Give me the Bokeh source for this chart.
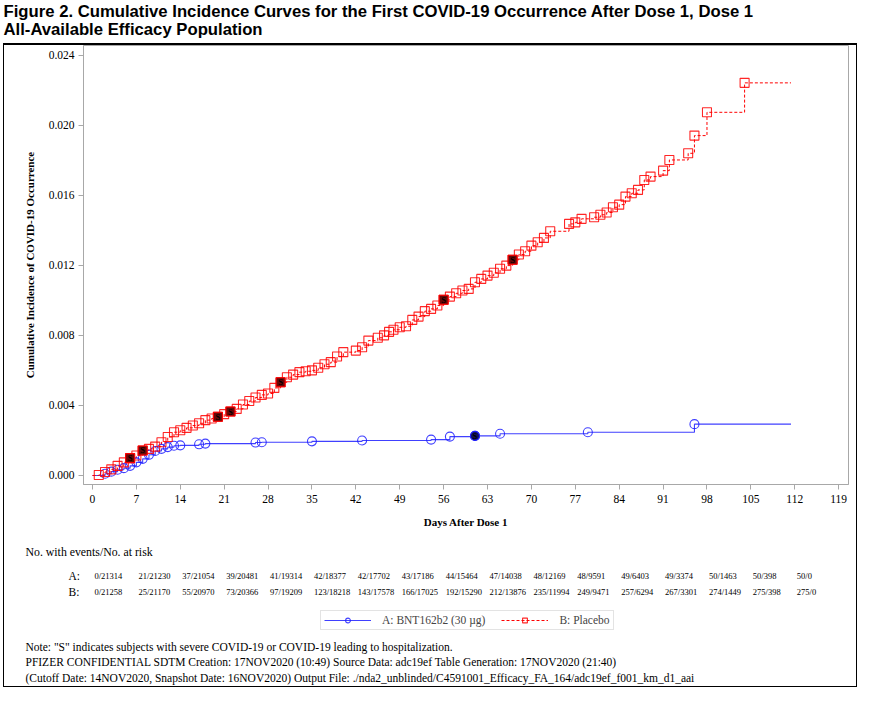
from bokeh.plotting import figure
from bokeh.layouts import column
from bokeh.models import (FixedTicker, PrintfTickFormatter, Legend, LegendItem, Range1d)
from bokeh.core.properties import value
from bokeh.embed import file_html
from bokeh.resources import INLINE

# ---------------- data ----------------
x_ticks = [0, 7, 14, 21, 28, 35, 42, 49, 56, 63, 70, 77, 84, 91, 98, 105, 112, 119]
y_ticks = [0.0, 0.004, 0.008, 0.012, 0.016, 0.020, 0.024]

# A: BNT162b2 (30 ug) event times (days) and cumulative incidence
vacc_days = [2, 3, 4, 5, 6, 7, 8, 9, 10, 11, 12, 13, 14, 17, 18, 26, 27, 35, 43, 54, 57, 61, 65, 79, 96]
vacc_ci = [0.00010, 0.00022, 0.00033, 0.00042, 0.00055, 0.00075, 0.00095, 0.00118, 0.00140,
           0.00152, 0.00162, 0.00170, 0.00172, 0.00178, 0.00182, 0.00188, 0.00190, 0.00195,
           0.00200, 0.00205, 0.00222, 0.00226, 0.00238, 0.00247, 0.00293]
vacc_severe_days = [61]
vacc_end_day = 111.4

# B: Placebo
plac_days = [1, 2, 3, 4, 5, 6, 7, 8, 9, 10, 11, 12, 13, 14, 15, 16, 17, 18, 19, 20, 21, 22,
             23, 24, 25, 26, 27, 28, 29, 30, 31, 32, 33, 34, 35, 36, 37, 38, 39, 40, 42, 43,
             44, 45.5, 46.5, 47.3, 48, 49, 50, 51, 52, 53, 54, 55, 56, 57, 58, 59, 60, 61, 62,
             63, 64, 65, 66, 67, 68, 69, 70, 71, 72, 73, 76, 77, 78, 80, 81, 82, 83, 84, 85,
             86, 87, 88, 89, 91, 92, 95, 96, 98, 104]
plac_ci = [0.00003, 0.00020, 0.00035, 0.00055, 0.00075, 0.00099, 0.00114, 0.00143, 0.00152,
           0.00165, 0.00190, 0.00220, 0.00247, 0.00258, 0.00272, 0.00285, 0.00298, 0.00316,
           0.00325, 0.00335, 0.00350, 0.00365, 0.00380, 0.00405, 0.00425, 0.00445, 0.00460,
           0.00468, 0.00500, 0.00532, 0.00561, 0.00576, 0.00590, 0.00595, 0.00600, 0.00615,
           0.00635, 0.00647, 0.00679, 0.00704, 0.00713, 0.00732, 0.00770, 0.00786, 0.00800,
           0.00820, 0.00832, 0.00846, 0.00852, 0.00888, 0.00907, 0.00938, 0.00951, 0.00970,
           0.01003, 0.01021, 0.01040, 0.01056, 0.01065, 0.01103, 0.01122, 0.01141, 0.01157,
           0.01180, 0.01198, 0.01231, 0.01261, 0.01280, 0.01312, 0.01331, 0.01356, 0.01394,
           0.01436, 0.01445, 0.01465, 0.01474, 0.01488, 0.01501, 0.01531, 0.01546, 0.01592,
           0.01611, 0.01630, 0.01687, 0.01706, 0.01740, 0.01801, 0.01839, 0.01940, 0.02073,
           0.02241]
plac_severe_days = [6, 8, 20, 22, 30, 56, 67]
plac_end_day = 111.4

risk_groups = ["A:", "B:"]
risk_a = ["0/21314", "21/21230", "37/21054", "39/20481", "41/19314", "42/18377", "42/17702",
          "43/17186", "44/15464", "47/14038", "48/12169", "48/9591", "49/6403", "49/3374",
          "50/1463", "50/398", "50/0"]
risk_b = ["0/21258", "25/21170", "55/20970", "73/20366", "97/19209", "123/18218", "143/17578",
          "166/17025", "192/15290", "212/13876", "235/11994", "249/9471", "257/6294",
          "267/3301", "274/1449", "275/398", "275/0"]
risk_days = x_ticks[:17]

legend_labels = ["A: BNT162b2 (30 µg)", "B: Placebo"]
title_lines = ["Figure 2. Cumulative Incidence Curves for the First COVID-19 Occurrence After Dose 1, Dose 1",
               "All-Available Efficacy Population"]
risk_header = "No. with events/No. at risk"
notes = [
    "Note: \"S\" indicates subjects with severe COVID-19 or COVID-19 leading to hospitalization.",
    "PFIZER CONFIDENTIAL  SDTM Creation: 17NOV2020 (10:49)  Source Data: adc19ef  Table Generation: 17NOV2020 (21:40)",
    "(Cutoff Date: 14NOV2020, Snapshot Date: 16NOV2020) Output File: ./nda2_unblinded/C4591001_Efficacy_FA_164/adc19ef_f001_km_d1_aai",
]

# ---------------- layout constants (picture px, origin top-left) ----------------
SERIF = "Liberation Serif"
SANS = "Liberation Sans"
BLUE = "#1f1fff"
RED = "#ff0000"
TW, T_H = 857, 43        # title strip
BOX_L = 3                # left edge of the boxed area
IW = TW - BOX_L - 2      # inner width (inside 1px side borders)
CL = BOX_L + 1           # inner canvas left
CR = CL + IW             # inner canvas right
M_TOP = T_H + 2          # main canvas top (below 2px top border)
FL, FR, FT, FB = 83, 848, 45, 484
M_H = 490
B_TOP = M_TOP + M_H
B_H = 151
XR = (-1.435, 120.57)
YR = (-0.000514, 0.024543)


def blank(width, height, xr, yr):
    f = figure(width=width, height=height, x_range=Range1d(*xr), y_range=Range1d(*yr),
               output_backend="svg", toolbar_location=None, title=None,
               x_axis_type=None, y_axis_type=None, min_border=0)
    f.outline_line_color = None
    f.background_fill_color = "white"
    f.border_fill_color = "white"
    return f


# ---------------- title strip ----------------
t = blank(TW, T_H, (0, TW), (T_H, 0))
t.text(x=[3, 3], y=[11, 29], text=title_lines,
       text_font=value(SANS), text_font_size="16.7px",
       text_font_style="bold", text_color="black", text_baseline="middle", text_align="left")

# ---------------- main plot ----------------
p = figure(width=IW, height=M_H, output_backend="svg", toolbar_location=None, title=None,
           x_range=Range1d(*XR), y_range=Range1d(*YR),
           min_border_left=FL - CL, min_border_right=CR - FR,
           min_border_top=FT - M_TOP, min_border_bottom=M_TOP + M_H - FB)
p.xgrid.visible = False
p.ygrid.visible = False
p.outline_line_color = "#a8a8a8"
p.background_fill_color = "white"
p.border_fill_color = "white"

for ax in (p.xaxis[0], p.yaxis[0]):
    ax.axis_line_color = "#a8a8a8"
    ax.major_tick_line_color = "#a8a8a8"
    ax.minor_tick_line_color = None
    ax.major_tick_in = 0
    ax.major_tick_out = 5
    ax.major_label_text_font = SERIF
    ax.major_label_text_font_size = "11.5px"
    ax.major_label_text_color = "black"
    ax.axis_label_text_font = SERIF
    ax.axis_label_text_font_size = "11px"
    ax.axis_label_text_font_style = "bold"
    ax.axis_label_text_color = "black"

p.xaxis.ticker = FixedTicker(ticks=x_ticks)
p.yaxis.ticker = FixedTicker(ticks=y_ticks)
p.yaxis.formatter = PrintfTickFormatter(format="%.3f")
p.xaxis.axis_label = "Days After Dose 1"
p.yaxis.axis_label = "Cumulative Incidence of COVID-19 Occurrence"
p.xaxis.major_label_standoff = 5
p.xaxis.axis_label_standoff = 10
p.yaxis.major_label_standoff = 4
p.yaxis.axis_label_standoff = 10

vx = [0] + vacc_days + [vacc_end_day]
vy = [0] + vacc_ci + [vacc_ci[-1]]
qx = [0] + plac_days + [plac_end_day]
qy = [0] + plac_ci + [plac_ci[-1]]

line_v = dict(line_color=BLUE, line_width=1.1, line_alpha=0.85)
line_p = dict(line_color=RED, line_width=1.0, line_dash="3 2")
mk_v = dict(marker="circle", size=9, fill_color=None, line_color=BLUE, line_width=1.1, line_alpha=0.85)
mk_p = dict(marker="square", size=9, fill_color=None, line_color=RED, line_width=1.1, line_alpha=0.85)

p.step(vx, vy, mode="after", **line_v)
p.step(qx, qy, mode="after", **line_p)
p.scatter(vacc_days, vacc_ci, **mk_v)
p.scatter(plac_days, plac_ci, **mk_p)

vs_y = [vacc_ci[vacc_days.index(d)] for d in vacc_severe_days]
ps_y = [plac_ci[plac_days.index(d)] for d in plac_severe_days]
p.scatter(vacc_severe_days, vs_y, marker="circle", size=9, fill_color="#10105a",
          line_color=BLUE, line_width=1.1)
p.scatter(plac_severe_days, ps_y, marker="square", size=9, fill_color="#6a0808",
          line_color=RED, line_width=1.1)
p.text(vacc_severe_days + plac_severe_days, vs_y + ps_y, text=["S"] * (len(vs_y) + len(ps_y)),
       text_font=value(SERIF), text_font_size="8.5px", text_font_style="bold",
       text_color="black", text_align="center", text_baseline="middle")

# ---------------- bottom strip: risk table, legend, notes ----------------
k = (FR - FL) / (XR[1] - XR[0])            # px per day, same scale as the main x axis
bx0 = XR[0] - (FL - CL) / k
bx1 = XR[1] + (CR - FR) / k
b = blank(IW, B_H, (bx0, bx1), (B_TOP + B_H, B_TOP))   # x in days, y in picture px
b.extra_x_ranges = {"px": Range1d(CL, CR)}

b.text(x=[25], y=[551], text=[risk_header], x_range_name="px",
       text_font=value(SERIF), text_font_size="11.8px", text_color="black",
       text_baseline="middle")
b.text(x=[68, 68], y=[575, 591], text=risk_groups, x_range_name="px",
       text_font=value(SERIF), text_font_size="11.5px", text_color="black",
       text_baseline="middle")
off = 2.0 / k
b.text(x=[d + off for d in risk_days], y=[575] * len(risk_days), text=risk_a,
       text_font=value(SERIF), text_font_size="8.5px", text_color="black", text_baseline="middle")
b.text(x=[d + off for d in risk_days], y=[591] * len(risk_days), text=risk_b,
       text_font=value(SERIF), text_font_size="8.5px", text_color="black", text_baseline="middle")
b.text(x=[25] * len(notes), y=[646 + i * 15.5 for i in range(len(notes))], text=notes,
       x_range_name="px", text_font=value(SERIF), text_font_size="11.5px",
       text_color="black", text_baseline="middle")

# legend with proxy renderers (placed off-canvas)
lv = b.step([-1000, -999], [600, 600], mode="after", x_range_name="px", **line_v)
lp = b.step([-1000, -999], [600, 600], mode="after", x_range_name="px", **line_p)
sv = b.scatter([-1000], [600], x_range_name="px", **mk_v)
sp = b.scatter([-1000], [600], x_range_name="px", **mk_p)
legend = Legend(items=[LegendItem(label=legend_labels[0], renderers=[lv, sv]),
                       LegendItem(label=legend_labels[1], renderers=[lp, sp])],
                location=(320 - CL, B_TOP + B_H - 630), orientation="horizontal",
                glyph_width=47, glyph_height=12, label_height=12, label_standoff=11,
                spacing=16, padding=3, margin=0,
                label_text_font=SERIF, label_text_font_size="11.5px",
                border_line_color="#c8c8c8", background_fill_color="white",
                background_fill_alpha=1.0)
b.add_layout(legend)

inner = column(p, column(b), margin=(0, 0, 0, BOX_L),
               styles={"border": "1px solid black", "border-top": "2px solid black"})
layout = column(t, inner)

open("out.html", "w").write(file_html(layout, INLINE))
